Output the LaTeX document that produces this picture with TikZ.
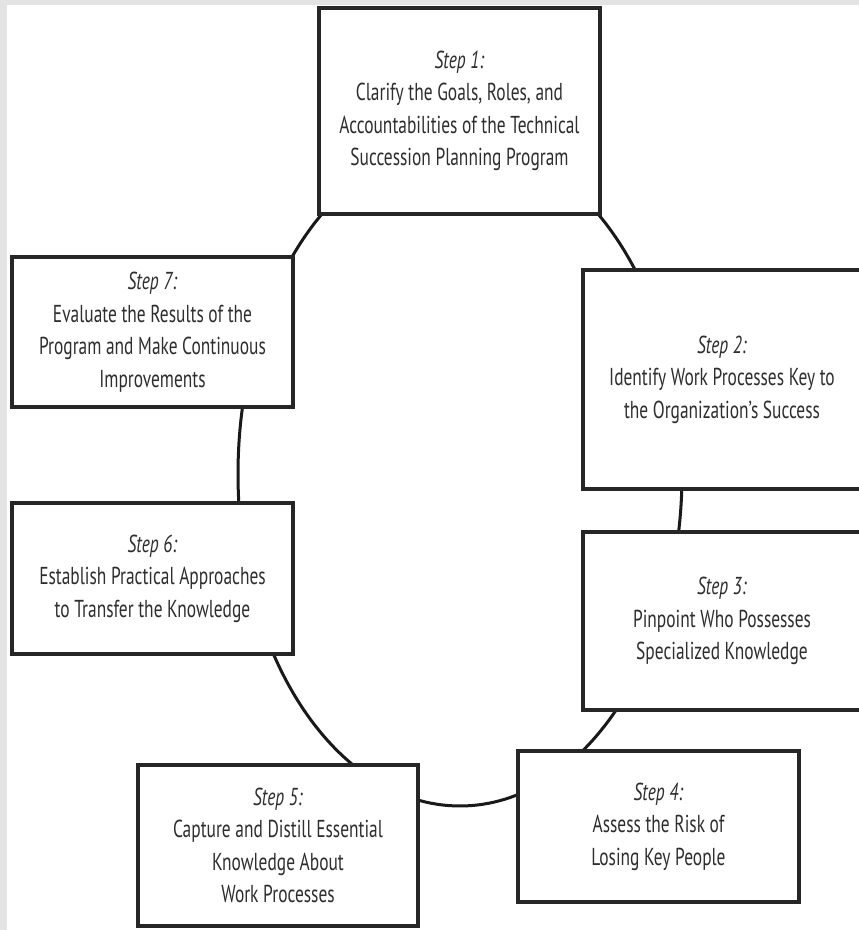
\documentclass[tikz,border=0pt]{standalone}
\usepackage{fontspec}
\setmainfont{PT Sans}[FakeStretch=0.71]
\usetikzlibrary{shapes.geometric}
\tikzset{
  stepbox/.style={draw=black!85, line width=3.6pt, fill=white, align=center,
    inner sep=0pt, text=black!82,
    font=\fontsize{24.5pt}{32.5pt}\selectfont},
  ringline/.style={draw=black!90, line width=3pt, ellipse, inner sep=0pt}
}
\newcommand{\stepname}[1]{\textit{#1}}
\begin{document}
\begin{tikzpicture}[x=1pt,y=1pt]
  % frame and page
  \useasboundingbox (0,0) rectangle (859,930);
  \fill[black!11] (0,0) rectangle (859,930);
  \fill[white] (7,0) rectangle (859,925);
  \clip (0,0) rectangle (859,930);

  % the cycle ring behind the steps
  \node[ringline, minimum width=444pt, minimum height=664pt] (ring) at (460,456) {};

  % steps (centre, size)
  \node[stepbox, minimum width=281pt, minimum height=206pt] (s1) at (459.5,819)
    {\stepname{Step 1:}\\Clarify the Goals, Roles, and\\Accountabilities of the Technical\\Succession Planning Program};
  \node[stepbox, minimum width=278pt, minimum height=219pt] (s2) at (722,550.5)
    {\stepname{Step 2:}\\Identify Work Processes Key to\\the Organization's Success};
  \node[stepbox, minimum width=278pt, minimum height=178pt] (s3) at (722,309)
    {\stepname{Step 3:}\\Pinpoint Who Possesses\\Specialized Knowledge};
  \node[stepbox, minimum width=281pt, minimum height=151pt] (s4) at (658.5,103.5)
    {\stepname{Step 4:}\\Assess the Risk of\\Losing Key People};
  \node[stepbox, minimum width=280pt, minimum height=161pt] (s5) at (278,84.5)
    {\stepname{Step 5:}\\Capture and Distill Essential\\Knowledge About\\Work Processes};
  \node[stepbox, minimum width=281pt, minimum height=151pt] (s6) at (152.5,351.5)
    {\stepname{Step 6:}\\Establish Practical Approaches\\to Transfer the Knowledge};
  \node[stepbox, minimum width=281pt, minimum height=150pt] (s7) at (152.5,598)
    {\stepname{Step 7:}\\Evaluate the Results of the\\Program and Make Continuous\\Improvements};
\end{tikzpicture}
\end{document}
